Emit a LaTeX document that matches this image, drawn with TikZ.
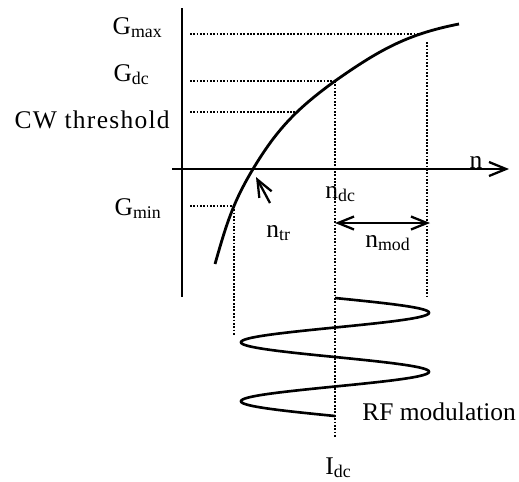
\documentclass[tikz,border=0pt]{standalone}
\usepackage{fontspec}
\setmainfont{Liberation Serif}
\usetikzlibrary{arrows.meta, positioning}
\definecolor{axis-color}{HTML}{000000}
\definecolor{guide-color}{HTML}{000000}
\tikzset{
  axis-line/.style={line width=1.4pt, draw=axis-color},
  gain-curve/.style={line width=1.6pt, draw=axis-color},
  guide-line/.style={dash pattern=on 1pt off 0.9pt, line width=1.3pt, draw=guide-color},
  label-text/.style={inner sep=0pt, font=\fontsize{14.5}{17}\selectfont},
  barb/.style={-{Straight Barb[length=3.4mm, width=2.8mm]}, line width=1.3pt},
  barb-both/.style={{Straight Barb[length=3.2mm, width=2.6mm]}-{Straight Barb[length=3.2mm, width=2.6mm]}, line width=1.3pt}
}

\begin{document}
\begin{tikzpicture}[x=0.02cm, y=-0.02cm]
  \useasboundingbox (0,0) rectangle (519,481);

  % axes
  \coordinate (v-top)   at (182,8);
  \coordinate (v-bot)   at (182,297);
  \coordinate (h-left)  at (172,169);
  \coordinate (h-right) at (509,169);
  \draw[axis-line] (v-top) -- (v-bot);
  \draw[axis-line, barb] (h-left) -- (h-right);

  % points on the gain curve
  \coordinate (p-low) at (215,264);
  \coordinate (p-min) at (234,206);
  \coordinate (p-tr)  at (253,169);
  \coordinate (p-cw)  at (297,112);
  \coordinate (p-dc)  at (335,81);
  \coordinate (p-max) at (418,34);
  \coordinate (p-end) at (459,24);
  \draw[gain-curve] (p-low) to[out=74, in=239] (p-tr) to[out=59, in=216] (p-dc) to[out=35, in=191] (p-end);

  % dotted guides
  \coordinate (gmax-start) at (190,34);
  \coordinate (gdc-start)  at (190,81);
  \coordinate (gcw-start)  at (190,112);
  \coordinate (gmin-start) at (190,206);
  \coordinate (nmax-top)   at (427,42);
  \coordinate (nmax-bot)   at (427,298);
  \coordinate (nmin-bot)   at (234,335);
  \coordinate (idc-bot)    at (335,437);
  \draw[guide-line] (gmax-start) -- (p-max);
  \draw[guide-line] (gdc-start) -- (p-dc);
  \draw[guide-line] (gcw-start) -- (p-cw);
  \draw[guide-line] (gmin-start) -- (p-min);
  \draw[guide-line] (p-dc) -- (idc-bot);
  \draw[guide-line] (nmax-top) -- (nmax-bot);
  \draw[guide-line] (p-min) -- (nmin-bot);

  % modulation depth and transparency arrows
  \coordinate (mod-left)  at (335,223);
  \coordinate (mod-right) at (430,223);
  \draw[barb-both] (mod-left) -- (mod-right);
  \coordinate (tr-tail) at (270,203);
  \coordinate (tr-tip)  at (256,177);
  \draw[barb] (tr-tail) -- (tr-tip);

  % RF current swing around I_dc
  \draw[line width=1.5pt, line join=round] plot[domain=0:118, samples=237] ({335+94*sin(6.1017*\x)}, {298+\x});

  % labels
  \node[label-text, anchor=base east] (gmax-label) at (163,34)  {G\textsubscript{max}};
  \node[label-text, anchor=base east] (gdc-label)  at (150,81)  {G\textsubscript{dc}};
  \node[label-text, anchor=base east] (cw-label)   at (170,128) {\addfontfeature{LetterSpace=5}CW threshold};
  \node[label-text, anchor=base east] (gmin-label) at (162,215) {G\textsubscript{min}};
  \node[label-text, anchor=base]      (n-label)    at (476,168) {n};
  \node[label-text, anchor=base west] (ndc-label)  at (325,198) {n\textsubscript{dc}};
  \node[label-text, anchor=base west] (ntr-label)  at (266,237) {n\textsubscript{tr}};
  \node[label-text, anchor=base west] (nmod-label) at (365,247) {n\textsubscript{mod}};
  \node[label-text, anchor=base west] (rf-label)   at (362,420) {RF modulation};
  \node[label-text, anchor=base west] (idc-label)  at (325,474) {I\textsubscript{dc}};
\end{tikzpicture}
\end{document}
